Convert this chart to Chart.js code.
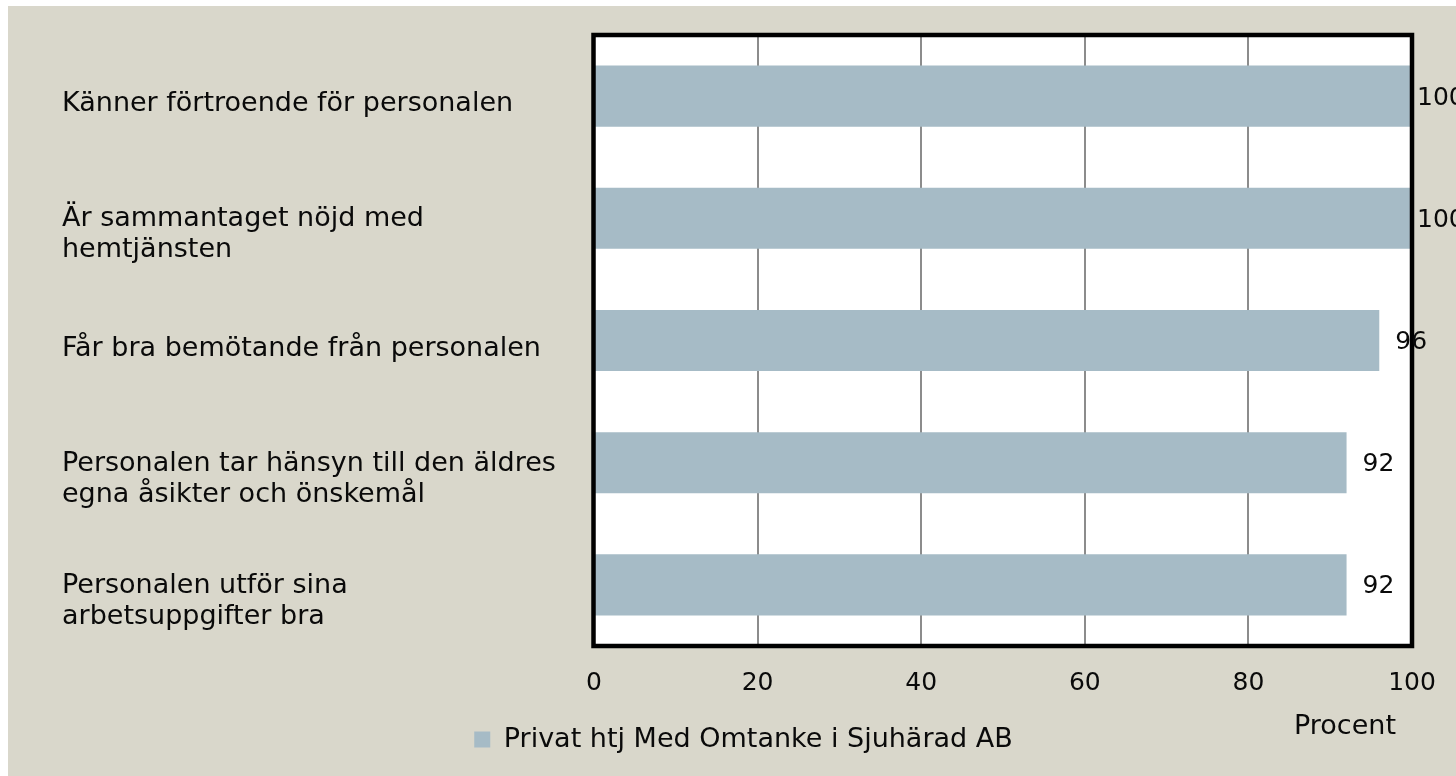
<!DOCTYPE html>
<html>
<head>
<meta charset="utf-8">
<script src="https://cdn.jsdelivr.net/npm/chart.js@4/dist/chart.umd.min.js"></script>
<style>
  html, body { margin: 0; padding: 0; background: #ffffff; }
  #wrap { width: 1456px; height: 776px; }
</style>
</head>
<body>
<div id="wrap"><canvas id="c" width="1456" height="776"></canvas></div>
<script>
const categories = [
  ["Känner förtroende för personalen"],
  ["Är sammantaget nöjd med", "hemtjänsten"],
  ["Får bra bemötande från personalen"],
  ["Personalen tar hänsyn till den äldres", "egna åsikter och önskemål"],
  ["Personalen utför sina", "arbetsuppgifter bra"]
];
const values = [100, 100, 96, 92, 92];
const xTicks = [0, 20, 40, 60, 80, 100];
const seriesName = "Privat htj Med Omtanke i Sjuhärad AB";
const axisTitle = "Procent";

const FONT = "'DejaVu Sans', 'Noto Sans', sans-serif";
const BG = '#d9d7cb';
const BAR = '#a6bbc6';
const TXT = '#0a0a0a';

const decor = {
  id: 'decor',
  beforeDraw(chart) {
    const ctx = chart.ctx, a = chart.chartArea;
    ctx.save();
    ctx.fillStyle = '#ffffff';
    ctx.fillRect(0, 0, chart.width, chart.height);
    ctx.fillStyle = BG;
    ctx.fillRect(8, 6, chart.width - 8, chart.height - 6);
    ctx.fillStyle = '#ffffff';
    ctx.fillRect(a.left, a.top, a.right - a.left, a.bottom - a.top);
    ctx.restore();
  },
  afterDatasetsDraw(chart) {
    const ctx = chart.ctx, a = chart.chartArea;
    const ys = chart.scales.y;
    ctx.save();
    // plot border
    ctx.strokeStyle = '#000000';
    ctx.lineWidth = 4.5;
    ctx.strokeRect(a.left - 0.5, a.top, a.right - a.left + 0.5, a.bottom - a.top);
    // category labels (left aligned)
    ctx.fillStyle = TXT;
    ctx.font = "27px " + FONT;
    ctx.textAlign = 'left';
    ctx.textBaseline = 'middle';
    categories.forEach((lines, i) => {
      const yc = ys.getPixelForValue(i);
      const y0 = lines.length === 1 ? yc + 8 : yc + 1;
      lines.forEach((t, k) => ctx.fillText(t, 62, y0 + k * 31));
    });
    // value labels
    ctx.font = "25px " + FONT;
    const meta = chart.getDatasetMeta(0);
    meta.data.forEach((bar, i) => {
      const x = Math.min(bar.x + 16, a.right + 5);
      ctx.fillText(String(values[i]), x, bar.y + 2);
    });
    // axis title
    ctx.textAlign = 'center';
    ctx.textBaseline = 'alphabetic';
    ctx.font = "27px " + FONT;
    ctx.fillText(axisTitle, 1345, 734);
    ctx.restore();
  }
};

new Chart(document.getElementById('c'), {
  type: 'bar',
  data: {
    labels: categories,
    datasets: [{
      label: seriesName,
      data: values,
      backgroundColor: BAR,
      borderWidth: 0,
      barPercentage: 0.5,
      categoryPercentage: 1.0
    }]
  },
  options: {
    indexAxis: 'y',
    responsive: false,
    devicePixelRatio: 1,
    animation: false,
    layout: { padding: { left: 75, right: 44, top: 35, bottom: 13 } },
    scales: {
      x: {
        min: 0, max: 100,
        afterBuildTicks(scale) { scale.ticks = xTicks.map(v => ({ value: v })); },
        afterFit(scale) { scale.height = 70; scale.paddingLeft = 0; scale.paddingRight = 0; },
        ticks: {
          padding: 22,
          color: TXT,
          font: { family: FONT, size: 25, lineHeight: 1.2 },
          maxRotation: 0
        },
        grid: {
          drawTicks: false,
          color: (c) => (c.tick && (c.tick.value === 0 || c.tick.value === 100)) ? 'rgba(0,0,0,0)' : '#8c8c8c',
          lineWidth: 2
        },
        border: { display: false }
      },
      y: {
        afterFit(scale) { scale.width = 594 - 75; },
        ticks: { display: false },
        grid: { display: false },
        border: { display: false }
      }
    },
    plugins: {
      legend: {
        position: 'bottom',
        labels: {
          boxWidth: 16, boxHeight: 16,
          color: TXT,
          font: { family: FONT, size: 27 }
        }
      },
      tooltip: { enabled: false }
    }
  },
  plugins: [decor]
});
</script>
</body>
</html>
